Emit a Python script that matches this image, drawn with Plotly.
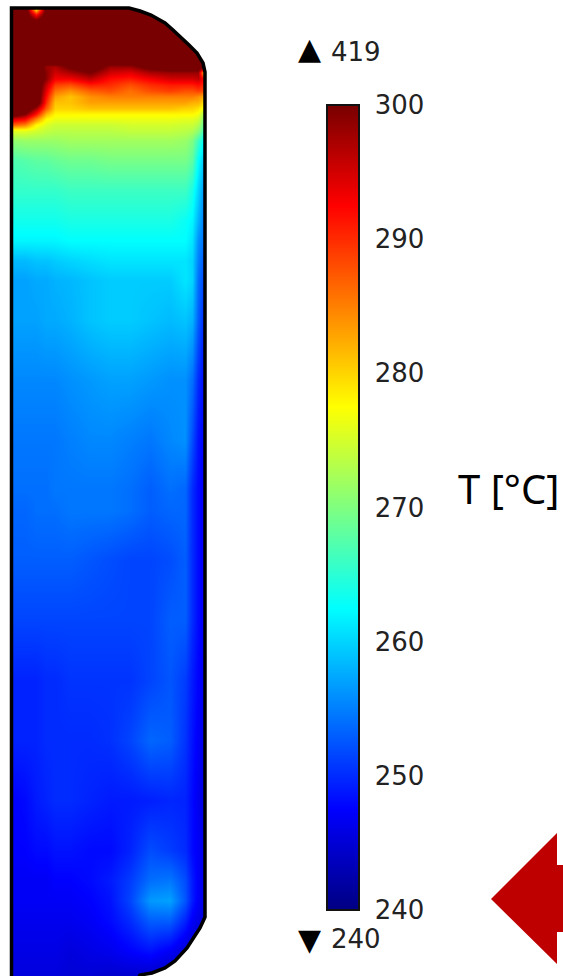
import plotly.graph_objects as go

# Temperature field (deg C). Positions are in picture units.
x_grid = [13, 25, 36, 46, 55, 70, 90, 110, 130, 150, 170, 185, 192, 198, 204]
y_grid = [9, 14, 20, 60, 66, 72, 78, 84, 90, 96, 102, 108, 113, 118, 124, 130, 140, 160, 190, 220, 240,
          260, 280, 320, 380, 440, 490, 510, 560, 620, 680, 740, 800, 850, 880, 900, 920, 950, 976]
T_field = [
    [305, 305, 280, 303, 305, 305, 305, 305, 305, 305, 305, 305, 305, 305, 305],
    [305, 304, 292, 303, 305, 305, 305, 305, 305, 305, 305, 305, 305, 305, 305],
    [305, 302, 301, 305, 305, 305, 305, 305, 305, 305, 305, 305, 305, 305, 305],
    [305, 305, 305, 305, 305, 305, 305, 305, 305, 305, 305, 305, 305, 305, 305],
    [305, 305, 305, 298, 297, 301, 304, 298, 298, 302, 304, 304, 304, 304, 304],
    [305, 305, 305, 299, 295, 297, 300, 295, 294, 297, 298, 298, 298, 298, 280],
    [305, 305, 305, 299, 293, 293, 296, 292, 291, 293, 295, 295, 295, 296, 292],
    [305, 305, 305, 296, 289, 288, 291, 290, 288, 290, 291, 291, 291, 292, 290],
    [305, 305, 305, 294, 286, 284, 287, 288, 286, 288, 289, 288, 288, 289, 288],
    [305, 305, 305, 292, 283, 281, 284, 285, 285, 285, 285, 285, 285, 284, 282],
    [305, 305, 305, 290, 281, 281, 283, 283, 283, 283, 283, 283, 282, 282, 279],
    [305, 305, 297, 287, 280, 280, 281, 281, 281, 281, 281, 280, 280, 279, 276],
    [305, 300, 292, 282, 278, 278, 278, 278, 278, 278, 278, 278, 278, 277, 272],
    [295, 293, 285, 278, 276.5, 276.5, 276.5, 276.5, 276.5, 276.5, 276.5, 276, 276, 275, 270],
    [287, 285, 278, 275.5, 274.5, 274.5, 274.5, 274.5, 275, 275, 275, 274.5, 274.5, 273, 268],
    [276, 276, 275, 274, 273.5, 273.5, 273.5, 273.5, 274, 274, 274, 273.5, 273, 271, 266],
    [271, 271.5, 271.5, 271.5, 271.5, 272, 272, 272, 272, 272, 272, 271.5, 270, 266, 262],
    [267, 267.5, 268, 268, 268.5, 269, 269, 269.5, 269.5, 269.5, 269.5, 269.5, 268, 262.5, 259],
    [265.5, 265.5, 265.5, 265.5, 265.5, 266, 266, 266, 266, 266, 266, 266, 264, 260, 256],
    [263.5, 263.5, 263.5, 263.5, 263.5, 264, 264, 264, 264, 264, 264, 263, 262, 258, 254.5],
    [262, 262, 262, 262, 262, 262.5, 262.5, 262.5, 262.5, 262.5, 262.5, 262.5, 261, 256, 254],
    [258.5, 258.5, 259, 259, 259.5, 260, 260.5, 261, 261, 261, 261, 261, 260, 255, 252.5],
    [257, 257, 257.5, 257.5, 258, 258.3, 259, 259.5, 259.5, 259.5, 259.5, 261, 260, 254, 251.5],
    [257, 257, 257, 257.5, 257.5, 258, 259, 259.5, 259.5, 259, 258.5, 259, 258, 253, 249.5],
    [255.5, 255.5, 255.5, 255.5, 255.5, 256, 256.5, 257, 257, 256.5, 256, 256, 254, 250, 248],
    [254.5, 254.5, 254.5, 254.5, 254.5, 255, 255.5, 255.5, 255, 254.5, 255.5, 256, 252, 248.5, 247.5],
    [254, 254, 254, 254, 254.5, 254.5, 254.5, 254.5, 254, 253, 254, 253.5, 250, 248, 247],
    [253.5, 253.5, 254, 254, 254, 254.5, 254.5, 254.5, 254, 253, 253.5, 253.5, 250, 248, 247],
    [253, 253, 253, 253, 253, 253, 252.5, 252, 251.5, 251.5, 252, 253, 250, 248, 247],
    [251.5, 251.5, 251.5, 251.5, 251.5, 251.5, 251.5, 251.5, 251.5, 251.5, 253, 253, 250, 248, 247],
    [249.5, 249.5, 249.5, 250, 250, 250.5, 250.5, 250.5, 250.5, 251.5, 252.5, 251, 249, 247.5, 246.5],
    [249.5, 249.5, 249.5, 250, 250, 250, 250, 250.3, 251.5, 253.5, 253, 250.5, 248.5, 247, 246],
    [247.5, 248, 249, 249.5, 250, 250, 249.5, 249, 249, 249.3, 249.7, 249.5, 248, 246.5, 245.5],
    [247.5, 247.5, 248, 248, 248.5, 248.5, 248, 248, 249.5, 252, 251, 250, 248, 247, 246],
    [247, 247, 247, 247, 247.5, 247.5, 248, 249, 251, 254, 254.5, 252, 249, 247, 246],
    [247, 247, 247, 247, 247, 247, 247.5, 248.5, 251.5, 256.5, 257, 252.5, 249, 247, 246],
    [246.5, 246.5, 246.5, 246.5, 246.5, 246.5, 247, 248, 250, 253, 253, 249.5, 247, 246, 245],
    [246, 246, 246, 246, 246, 245.5, 246, 246.5, 247.5, 248.5, 247, 245, 244, 243, 243],
    [245.5, 245.5, 245.5, 245.5, 245.5, 245, 245, 244.5, 244.5, 244, 243, 243, 243, 243, 243],
]

T_min = 240
T_max = 300
T_ticks = [240, 250, 260, 270, 280, 290, 300]
over_label = "419"
under_label = "240"
unit_label = "T [°C]"

# Vessel outline
wall_x = [11.5, 11.5, 129, 140, 151, 165, 173, 182, 189, 197, 203, 205, 205, 200, 194, 187, 175, 165, 152, 140, 132]
wall_y = [990, 8, 8, 11, 15, 23, 30, 38, 45, 53, 63, 72, 917, 928, 938, 948, 961, 968, 973, 975, 990]

# Inflow arrow
arrow_x = [491, 557, 557, 580, 580, 557, 557, 491]
arrow_y = [899, 833, 865, 865, 932, 932, 964, 899]

jet = [[0, "rgb(0,0,130)"], [0.125, "rgb(0,0,255)"], [0.375, "rgb(0,255,255)"],
       [0.625, "rgb(255,255,0)"], [0.875, "rgb(255,0,0)"], [1, "rgb(120,0,0)"]]

W, H = 563, 976
bar_top, bar_bottom, bar_left, bar_right = 105, 910, 327, 359
num_font = dict(family="DejaVu Sans", size=26, color="#222222")

fig = go.Figure()
fig.add_trace(go.Heatmap(
    x=x_grid, y=y_grid, z=T_field, zmin=T_min, zmax=T_max, zsmooth="best",
    colorscale=jet, hoverinfo="skip",
    colorbar=dict(
        x=bar_left / W, xanchor="left", xpad=0, ypad=0,
        y=1 - (bar_top + bar_bottom) / 2 / H, yanchor="middle",
        len=(bar_bottom - bar_top) / H, lenmode="fraction",
        thickness=bar_right - bar_left, thicknessmode="pixels",
        outlinecolor="#111111", outlinewidth=2,
        tickmode="array", tickvals=T_ticks, ticktext=[str(t) for t in T_ticks],
        ticks="outside", ticklen=10, tickcolor="rgba(0,0,0,0)",
        tickfont=num_font,
    ),
))

# White surround that trims the field to the vessel shape
ring_x = wall_x + [215, 215, 0, 0, wall_x[0]]
ring_y = wall_y + [990, -5, -5, 990, wall_y[0]]
fig.add_trace(go.Scatter(x=ring_x, y=ring_y, mode="lines", fill="toself", fillcolor="white",
                         line=dict(width=0), hoverinfo="skip", showlegend=False))
fig.add_trace(go.Scatter(x=wall_x, y=wall_y, mode="lines", line=dict(color="black", width=3.5),
                         hoverinfo="skip", showlegend=False))
fig.add_trace(go.Scatter(x=arrow_x, y=arrow_y, mode="lines", fill="toself", fillcolor="#BF0000",
                         line=dict(width=0), hoverinfo="skip", showlegend=False))

# Tick marks on both inner edges of the colour bar
shapes = []
for t in T_ticks[1:-1]:
    yp = bar_bottom - (t - T_min) / (T_max - T_min) * (bar_bottom - bar_top)
    for x0, x1 in ((bar_left, bar_left + 5), (bar_right - 5, bar_right)):
        shapes.append(dict(type="line", xref="x", yref="y", x0=x0, x1=x1, y0=yp, y1=yp,
                           line=dict(color="#111111", width=1.5)))

annotations = [
    dict(x=309.5, y=48, text="▲", font=dict(family="DejaVu Sans", size=30, color="black")),
    dict(x=330, y=52, text=over_label, xanchor="left", font=num_font),
    dict(x=309.5, y=939, text="▼", font=dict(family="DejaVu Sans", size=30, color="black")),
    dict(x=330, y=939, text=under_label, xanchor="left", font=num_font),
    dict(x=457, y=488, text=unit_label, xanchor="left",
         font=dict(family="Noto Sans", size=40, color="black")),
]
for a in annotations:
    a.update(xref="x", yref="y", showarrow=False, xshift=0, borderpad=0)

fig.update_layout(
    width=W, height=H, margin=dict(l=0, r=0, t=0, b=0),
    paper_bgcolor="white", plot_bgcolor="white", showlegend=False,
    xaxis=dict(range=[0, W], visible=False, domain=[0, 1], fixedrange=True),
    yaxis=dict(range=[H, 0], visible=False, domain=[0, 1], fixedrange=True),
    shapes=shapes, annotations=annotations,
)
fig.write_html("out.html", config=dict(displayModeBar=False),
               post_script="document.body.style.margin='0';")
